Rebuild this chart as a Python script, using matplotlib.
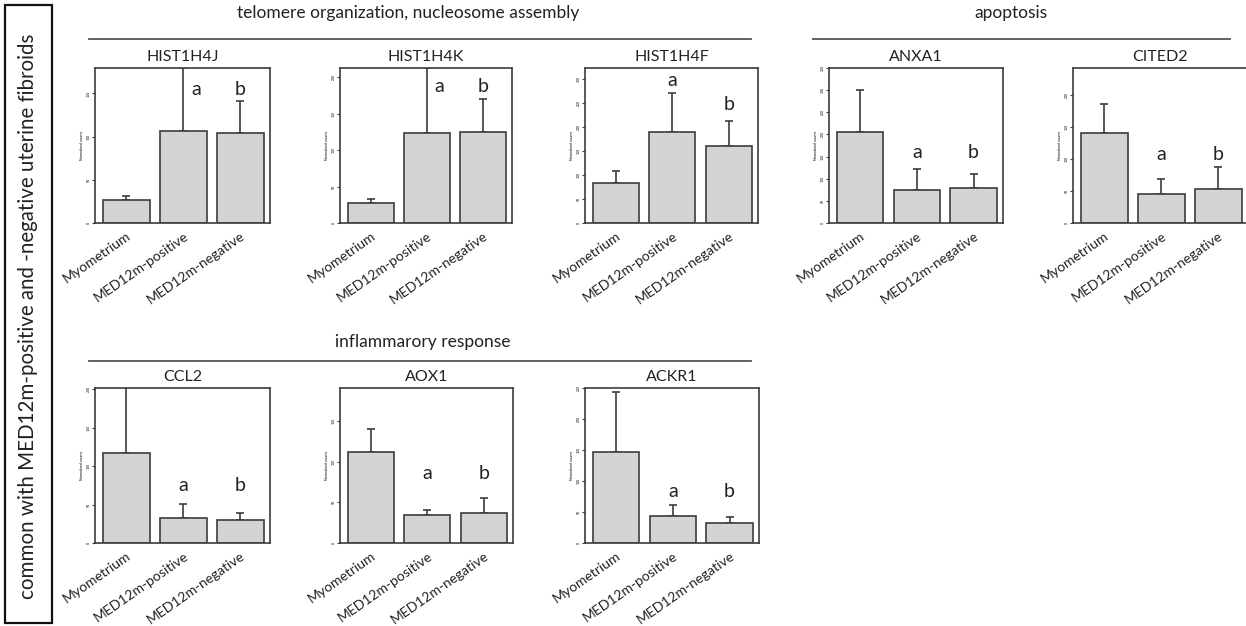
import numpy as np
import matplotlib
matplotlib.use("Agg")
import matplotlib.pyplot as plt
from matplotlib.patches import Rectangle
from matplotlib.lines import Line2D

plt.rcParams['font.family'] = ['Lato', 'DejaVu Sans']

# groups on the x axis
groups = ["Myometrium", "MED12m-positive", "MED12m-negative"]

# gene names, one small panel each
genes = ["HIST1H4J", "HIST1H4K", "HIST1H4F", "ANXA1", "CITED2", "CCL2", "AOX1", "ACKR1"]

# bar heights (normalized counts, in units of the y tick step)
means = [
    [0.54, 2.12, 2.09],
    [0.55, 2.47, 2.50],
    [1.66, 3.81, 3.21],
    [4.13, 1.50, 1.58],
    [2.82, 0.89, 1.05],
    [2.34, 0.66, 0.59],
    [2.24, 0.69, 0.73],
    [2.92, 0.88, 0.65],
]
# upper error bars
errs = [
    [0.09, 1.47, 0.73],
    [0.11, 1.78, 0.91],
    [0.51, 1.63, 1.04],
    [1.87, 0.93, 0.64],
    [0.88, 0.48, 0.69],
    [1.96, 0.35, 0.19],
    [0.57, 0.12, 0.38],
    [1.95, 0.36, 0.19],
]
# top of each y axis
ymax = [3.59, 4.25, 6.47, 7.0, 4.83, 4.03, 3.81, 5.0]

# significance letters for the two fibroid groups and their heights
letters = ["a", "b"]
letter_y = [
    [3.1, 3.1],
    [3.75, 3.75],
    [5.96, 4.96],
    [3.18, 3.18],
    [2.12, 2.12],
    [1.49, 1.49],
    [1.71, 1.71],
    [1.67, 1.67],
]

# group headings
headings = ["telomere organization, nucleosome assembly", "apoptosis", "inflammarory response"]
side_text = "common with MED12m-positive and -negative uterine fibroids"

W, H = 1246, 626
fig = plt.figure(figsize=(W / 100, H / 100), dpi=100)

dark = "#3c3c3c"
barc = "#d4d4d4"

# axes placement in pixels (left, right, top, bottom)
boxes = [
    (95, 270, 68, 223), (340, 512, 68, 223), (585, 758, 68, 223),
    (829, 1003, 68, 223), (1073, 1248, 68, 223),
    (95, 270, 388, 543), (340, 513, 388, 543), (585, 759, 388, 543),
]

x = np.arange(len(groups))
for i, g in enumerate(genes):
    l, r, t, b = boxes[i]
    ax = fig.add_axes([l / W, 1 - b / H, (r - l) / W, (b - t) / H])
    ax.bar(x, means[i], width=0.82, color=barc, edgecolor=dark, linewidth=1.2, zorder=2)
    ax.errorbar(x, means[i], yerr=[np.zeros(3), errs[i]], fmt="none",
                ecolor=dark, elinewidth=1.2, capsize=3, capthick=1.2, zorder=1)
    for j, lt in enumerate(letters):
        k = j + 1
        dx = 0.22 if means[i][k] + errs[i][k] > letter_y[i][j] else 0
        ax.text(k + dx, letter_y[i][j], lt, ha="center", va="center", fontsize=14, color="#222222")
    ax.set_xlim(-0.55, 2.52)
    ax.set_ylim(0, ymax[i])
    ax.set_yticks(np.arange(0, int(ymax[i]) + 1))
    ax.set_yticklabels([str(v * 50) for v in range(int(ymax[i]) + 1)], fontsize=2.5, rotation=90, va="center")
    ax.tick_params(axis="y", length=2, width=0.8, color=dark, pad=1)
    ax.set_xticks(x)
    ax.set_xticklabels(groups, rotation=35, ha="right", rotation_mode="anchor", fontsize=10, color="#222222")
    ax.tick_params(axis="x", length=0, pad=5)
    ax.set_ylabel("Normalized counts", fontsize=2.5, labelpad=2)
    for s in ax.spines.values():
        s.set_color(dark)
        s.set_linewidth(1.2)
    if r > W:
        ax.spines["right"].set_visible(False)
    ax.set_title(g, fontsize=11.5, pad=5, color="#222222")

# headings with lines under them
head_pos = [(408, 13, 89, 751, 39), (1011, 13, 813, 1230, 39), (423, 342, 89, 751, 361)]
for txt, (cx, cy, x0, x1, ly) in zip(headings, head_pos):
    fig.text(cx / W, 1 - cy / H, txt, ha="center", va="center", fontsize=12.5, color="#222222")
    fig.add_artist(Line2D([x0 / W, x1 / W], [1 - ly / H, 1 - ly / H], color="#555555", linewidth=1.3))

# side box
fig.add_artist(Rectangle((5 / W, 1 - 623 / H), 47 / W, 618 / H, transform=fig.transFigure,
                         fill=False, edgecolor="#111111", linewidth=1.6))
fig.text(28 / W, 1 - 316 / H, side_text, rotation=90, ha="center", va="center", fontsize=14.8, color="#222222")

fig.savefig("out.png", dpi=100, facecolor="white")
